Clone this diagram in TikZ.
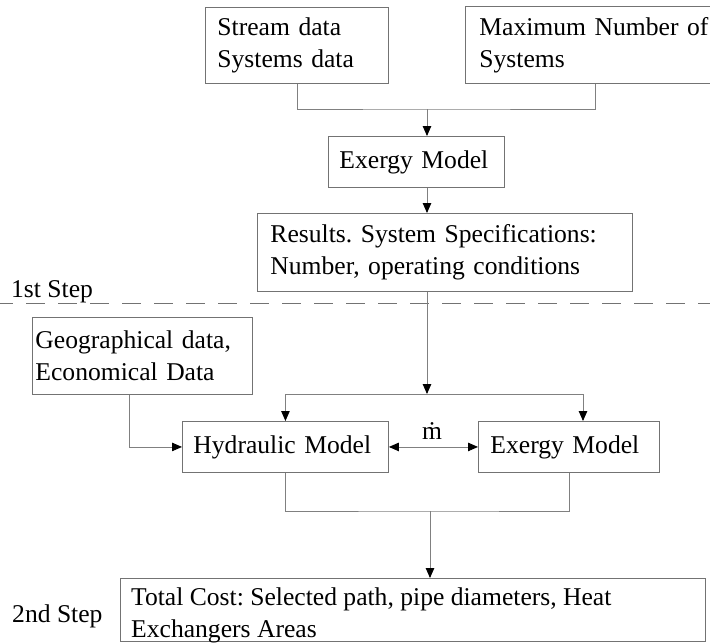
\documentclass[tikz,border=0pt]{standalone}
\usepackage{fontspec}
\setmainfont{Liberation Serif}
\usetikzlibrary{arrows.meta,calc}
\definecolor{boxgray}{gray}{0.45}
\definecolor{linegray}{gray}{0.5}
\frenchspacing
\begin{document}
\begin{tikzpicture}[x=1pt,y=-1pt,
  txt/.style={font=\fontsize{25.6}{32}\selectfont, text=black},
  box/.style={txt, draw=boxgray, line width=0.9pt, rectangle, inner ysep=0pt, align=left, anchor=north west},
  conn/.style={draw=linegray, line width=0.9pt},
  arr/.style={conn, -{Triangle[length=10pt,width=8.5pt,color=black]}},
  darr/.style={conn, {Triangle[length=10pt,width=8.5pt,color=black]}-{Triangle[length=10pt,width=8.5pt,color=black]}},
  steplabel/.style={txt, inner sep=0pt, anchor=base west}]
\useasboundingbox (0,0) rectangle (710,643);
% first step
\node[box, minimum width=183pt, minimum height=76pt, inner xsep=12pt, text width=159pt] (b1) at (205,7) {Stream data\\Systems data};
\node[box, minimum width=278pt, minimum height=77pt, inner xsep=14pt, text width=250pt] (b2) at (465,6) {Maximum Number of\\Systems};
\node[box, minimum width=176pt, minimum height=51pt, inner xsep=11pt, text width=154pt] (ex1) at (328,136) {Exergy Model};
\node[box, minimum width=375pt, minimum height=78pt, inner xsep=13pt, text width=349pt] (res) at (257,213) {Results. System Specifications:\\Number, operating conditions};
\node[steplabel] (s1) at (11,297) {1st Step};
\coordinate (dl) at (-6,303);
\coordinate (dr) at (712,303);
\draw[draw=boxgray, line width=0.9pt, dash pattern=on 19pt off 13pt] (dl) -- (dr);
\coordinate (j1) at (427,109);
\draw[conn] (b1.south) |- (j1) -| ($(b2.south west)+(130,0)$);
\draw[arr] (j1) -- (j1 |- ex1.north);
\draw[arr] (j1 |- ex1.south) -- (j1 |- res.north);
% second step
\node[box, minimum width=220pt, minimum height=77pt, inner xsep=3pt, text width=214pt] (geo) at (32,317) {Geographical data,\\Economical Data};
\node[box, minimum width=206pt, minimum height=51pt, inner xsep=11pt, text width=184pt] (hyd) at (182,421) {Hydraulic Model};
\node[box, minimum width=181pt, minimum height=51pt, inner xsep=12pt, text width=157pt] (ex2) at (478,421) {Exergy Model};
\coordinate (j2) at (427,394);
\coordinate (hr) at (583,394);
\draw[arr] (j1 |- res.south) -- (j2);
\draw[conn] (hyd.north |- j2) -- (hr);
\draw[arr] (hyd.north |- j2) -- (hyd.north);
\draw[arr] (hr) -- (hr |- ex2.north);
\draw[arr] ($(geo.south west)+(97,0)$) |- (hyd.west);
\draw[darr] (hyd.east) -- (ex2.west);
\node[txt, inner sep=0pt, anchor=base] (mdot) at (432,439) {\.{m}};
\node[box, minimum width=585pt, minimum height=63pt, inner sep=0pt] (tc) at (120,578) {};
\node[txt, inner sep=0pt, anchor=north west, align=left] (tct) at (131,588) {Total Cost: Selected path, pipe diameters, Heat\\Exchangers Areas};
\node[steplabel] (s2) at (12,622) {2nd Step};
\coordinate (j3) at (430,511);
\draw[conn] (hyd.south) |- (j3) -| (ex2.south);
\draw[arr] (j3) -- (j3 |- tc.north);
\end{tikzpicture}
\end{document}
